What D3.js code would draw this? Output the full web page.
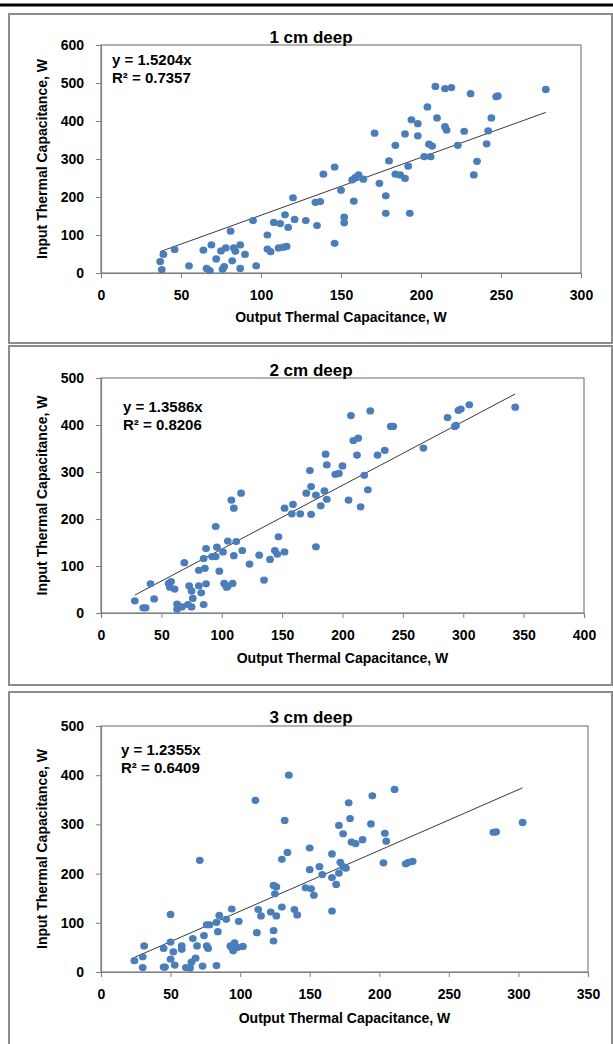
<!DOCTYPE html>
<html>
<head>
<meta charset="utf-8">
<script src="https://cdn.jsdelivr.net/npm/d3@7"></script>
<style>
  body { margin: 0; background: #fff; }
  svg { display: block; }
  text { font-family: "Liberation Sans", Arial, sans-serif; }
</style>
</head>
<body>
<div id="chart"></div>
<script>
// panel titles / labels
var titles = ["1 cm deep", "2 cm deep", "3 cm deep"];
var equations = ["y = 1.5204x", "y = 1.3586x", "y = 1.2355x"];
var rSquared = ["R\u00b2 = 0.7357", "R\u00b2 = 0.8206", "R\u00b2 = 0.6409"];
var slopes = [1.5204, 1.3586, 1.2355];
var xLabel = "Output Thermal Capacitance, W";
var yLabel = "Input Thermal Capacitance, W";

// tick labels
var xTicks1 = [0, 50, 100, 150, 200, 250, 300];
var yTicks1 = [0, 100, 200, 300, 400, 500, 600];
var xTicks2 = [0, 50, 100, 150, 200, 250, 300, 350, 400];
var yTicks2 = [0, 100, 200, 300, 400, 500];
var xTicks3 = [0, 50, 100, 150, 200, 250, 300, 350];
var yTicks3 = [0, 100, 200, 300, 400, 500];

// 1 cm deep: output (x) / input (y)
var out1 = [39,37,38,46,55,64,69,66,68,72,75,78,83,84,81,77,76,82,87,90,87,95,97,104,104,106,108,112,115,121,
  117,111,114,116,120,128,134,137,135,139,146,150,146,152,152,158,157,159,161,164,171,174,178,178,180,184,184,187,190,192,
  193,190,194,198,198,202,205,207,206,204,210,209,215,219,215,216,223,227,231,235,233,241,242,244,247,248,278];
var in1 = [49,30,9,62,19,60,74,12,6,37,58,66,66,57,110,17,10,32,74,49,12,138,19,100,63,56,133,130,153,141,
  120,66,68,70,198,138,186,188,125,260,279,218,78,132,147,189,245,252,258,247,368,236,203,157,295,336,260,258,249,281,
  157,366,403,393,361,306,339,334,306,437,408,491,485,488,385,376,336,373,472,294,258,340,374,408,464,466,483];

// 2 cm deep
var out2 = [28,35,37,41,44,56,58,57,61,63,64,63,67,69,73,75,76,72,75,81,81,85,86,83,85,87,87,92,95,96,
  101,95,98,102,104,105,109,105,108,110,110,112,116,117,123,131,135,140,144,146,147,152,152,158,159,165,170,173,174,174,
  178,182,185,187,178,186,187,194,197,200,205,207,209,213,212,215,218,221,223,229,235,240,242,267,287,293,294,296,298,305,343];
var in2 = [26,11,11,62,30,63,67,55,51,19,12,8,13,107,58,47,31,18,13,91,58,116,95,43,18,137,62,120,120,140,
  130,184,89,63,55,57,63,153,240,223,122,152,255,133,104,123,70,114,133,125,162,130,223,211,231,211,255,303,269,210,
  251,228,260,242,141,338,315,295,297,313,240,420,367,372,336,226,293,262,430,336,346,397,397,351,416,397,399,431,434,443,438];

// 3 cm deep
var out3 = [24,30,31,30,45,46,45,50,50,52,50,53,58,58,61,64,66,69,65,68,71,73,74,76,77,76,78,83,85,84,
  83,90,94,93,94,96,95,98,99,102,111,112,113,115,122,126,124,124,124,126,125,130,130,134,132,135,139,141,147,151,
  153,150,150,157,159,166,166,166,169,171,174,171,172,174,176,178,179,180,183,188,194,195,203,204,205,211,219,221,224,282,284,303];
var in3 = [23,31,53,9,10,10,48,117,61,41,26,14,53,46,9,8,68,53,20,28,227,12,74,53,48,96,96,101,115,82,
  13,107,128,53,50,59,43,50,103,52,349,80,127,114,122,114,84,63,176,173,159,132,229,243,308,400,127,116,171,169,
  156,208,252,214,198,240,124,192,178,298,281,201,223,214,211,344,312,264,261,269,301,358,222,282,266,371,220,223,225,284,285,304];

var W = 613, H = 1044;
var svg = d3.select("#chart").append("svg").attr("width", W).attr("height", H);

// black rule at top of page
svg.append("line").attr("x1", 0).attr("x2", W).attr("y1", 5).attr("y2", 5)
  .attr("stroke", "#000").attr("stroke-width", 3);

var panels = [
  { frame: [14, 343], plot: { l: 101, r: 581, t: 45, b: 273 }, xd: [0, 300], yd: [0, 600],
    xt: xTicks1, yt: yTicks1, xs: out1, ys: in1, titleY: 43, eqY: 60, xLabY: 317 },
  { frame: [346, 685], plot: { l: 101, r: 584, t: 378, b: 613 }, xd: [0, 400], yd: [0, 500],
    xt: xTicks2, yt: yTicks2, xs: out2, ys: in2, titleY: 376, eqY: 407, xLabY: 658, eqX: 123 },
  { frame: [692, 1050], plot: { l: 101, r: 588, t: 726, b: 972 }, xd: [0, 350], yd: [0, 500],
    xt: xTicks3, yt: yTicks3, xs: out3, ys: in3, titleY: 723, eqY: 750, xLabY: 1018, eqX: 121 }
];

panels.forEach(function(p, i) {
  var g = svg.append("g");
  var pl = p.plot;

  // outer chart frame
  g.append("rect").attr("x", 9).attr("y", p.frame[0])
    .attr("width", 603).attr("height", p.frame[1] - p.frame[0])
    .attr("fill", "#fff").attr("stroke", "#8c8c8c").attr("stroke-width", 2);

  var x = d3.scaleLinear().domain(p.xd).range([pl.l, pl.r]);
  var y = d3.scaleLinear().domain(p.yd).range([pl.b, pl.t]);

  // plot area border
  g.append("rect").attr("x", pl.l).attr("y", pl.t)
    .attr("width", pl.r - pl.l).attr("height", pl.b - pl.t)
    .attr("fill", "#fff").attr("stroke", "#808080").attr("stroke-width", 1.2);

  var xAxis = g.append("g").attr("transform", "translate(0," + pl.b + ")")
    .call(d3.axisBottom(x).tickValues(p.xt).tickSize(5).tickPadding(12).tickFormat(d3.format("d")));
  var yAxis = g.append("g").attr("transform", "translate(" + pl.l + ",0)")
    .call(d3.axisLeft(y).tickValues(p.yt).tickSize(5).tickPadding(12).tickFormat(d3.format("d")));
  [xAxis, yAxis].forEach(function(a) {
    a.select(".domain").attr("stroke", "#808080").attr("stroke-width", 1.2);
    a.selectAll(".tick line").attr("stroke", "#808080");
    a.selectAll(".tick text").attr("fill", "#000").style("font-size", "14px").style("font-weight", "bold")
      .style("font-family", "'Liberation Sans', Arial, sans-serif");
  });

  // trendline through origin
  var ext = d3.extent(p.xs);
  g.append("line")
    .attr("x1", x(ext[0])).attr("y1", y(slopes[i] * ext[0]))
    .attr("x2", x(ext[1])).attr("y2", y(slopes[i] * ext[1]))
    .attr("stroke", "#3a3a3a").attr("stroke-width", 1);

  // points
  g.selectAll("ellipse.pt").data(d3.range(p.xs.length)).enter().append("ellipse")
    .attr("class", "pt")
    .attr("cx", function(k) { return x(p.xs[k]); })
    .attr("cy", function(k) { return y(p.ys[k]); })
    .attr("rx", 3.9).attr("ry", 3.6)
    .attr("fill", "#4a7ebb");

  // title
  g.append("text").attr("x", 311).attr("y", p.titleY).attr("text-anchor", "middle")
    .style("font-size", "17px").style("font-weight", "bold").attr("fill", "#000").text(titles[i]);

  // equation + R2
  var ex = p.eqX || 112;
  g.append("text").attr("x", ex).attr("y", p.eqY).attr("dy", "0.35em")
    .style("font-size", "15px").style("font-weight", "bold").text(equations[i]);
  g.append("text").attr("x", ex).attr("y", p.eqY + 18).attr("dy", "0.35em")
    .style("font-size", "15px").style("font-weight", "bold").text(rSquared[i]);

  // axis titles
  g.append("text").attr("x", (pl.l + pl.r) / 2).attr("y", p.xLabY).attr("dy", "0.35em")
    .attr("text-anchor", "middle").style("font-size", "14px").style("font-weight", "bold").text(xLabel);
  g.append("text").attr("transform", "translate(42," + (pl.t + pl.b) / 2 + ") rotate(-90)")
    .attr("dy", "0.35em").attr("text-anchor", "middle")
    .style("font-size", "14px").style("font-weight", "bold").text(yLabel);
});
</script>
</body>
</html>
